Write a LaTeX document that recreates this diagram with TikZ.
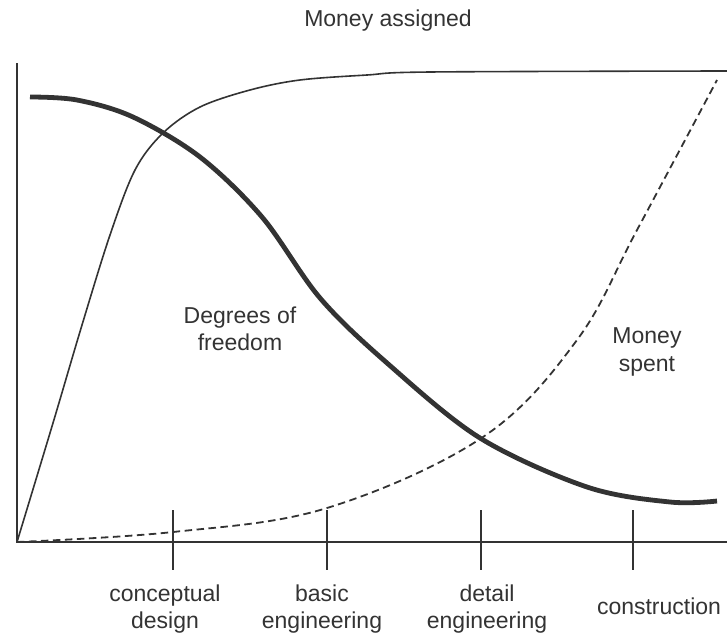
\documentclass[tikz,border=0pt]{standalone}
\usepackage{fontspec}
\setmainfont{Liberation Sans}
\definecolor{ink}{HTML}{333333}
\begin{document}
\begin{tikzpicture}[x=1pt,y=-1pt,
  lbl/.style={font=\fontsize{23}{27.5}\selectfont, text=ink, align=center, inner sep=0pt},
  axisline/.style={draw=ink, line width=1.8pt},
  tickline/.style={draw=ink, line width=1.4pt},
  thincurve/.style={draw=ink, line width=1.6pt},
  thickcurve/.style={draw=ink, line width=4.8pt},
  spentcurve/.style={draw=ink, line width=1.8pt, dash pattern=on 7.5pt off 4.5pt}]
\useasboundingbox (0,0) rectangle (727,635);
% axes
\coordinate (O) at (17,542);
\coordinate (ytop) at (17,63);
\coordinate (xend) at (727,542);
\draw[axisline] (ytop) -- (O) -- (xend);
% ticks
\foreach \n/\x in {t1/173, t2/327, t3/481, t4/633}{
  \coordinate (\n a) at (\x,510);
  \coordinate (\n b) at (\x,570);
  \draw[tickline] (\n a) -- (\n b);
}
% money assigned (thin)
\draw[thincurve] plot[smooth, tension=0.55] coordinates {(17,542) (53,423) (82,325) (110,235) (135,170) (163,133) (200,107) (250,90) (300,80) (367,75) (430,72) (727,71)};
% money spent (dashed)
\draw[spentcurve] plot[smooth, tension=0.6] coordinates {(17,542) (173,532) (327,508) (483,437) (577,340) (637,230) (717,80)};
% degrees of freedom (thick)
\draw[thickcurve] plot[smooth, tension=0.55] coordinates {(30,97) (77,100) (133,117) (200,157) (262,217) (320,298) (387,363) (480,438) (587,487) (670,502) (717,501)};
% labels
\node[lbl] (ma) at (388,21) {Money assigned};
\node[lbl] (dof) at (240,329) {Degrees of\\freedom};
\node[lbl] (ms) at (647,352) {Money\\spent};
\node[lbl] (l1) at (165,609) {conceptual\\design};
\node[lbl] (l2) at (322,609) {basic\\engineering};
\node[lbl] (l3) at (487,609) {detail\\engineering};
\node[lbl] (l4) at (659,606) {construction};
\end{tikzpicture}
\end{document}
